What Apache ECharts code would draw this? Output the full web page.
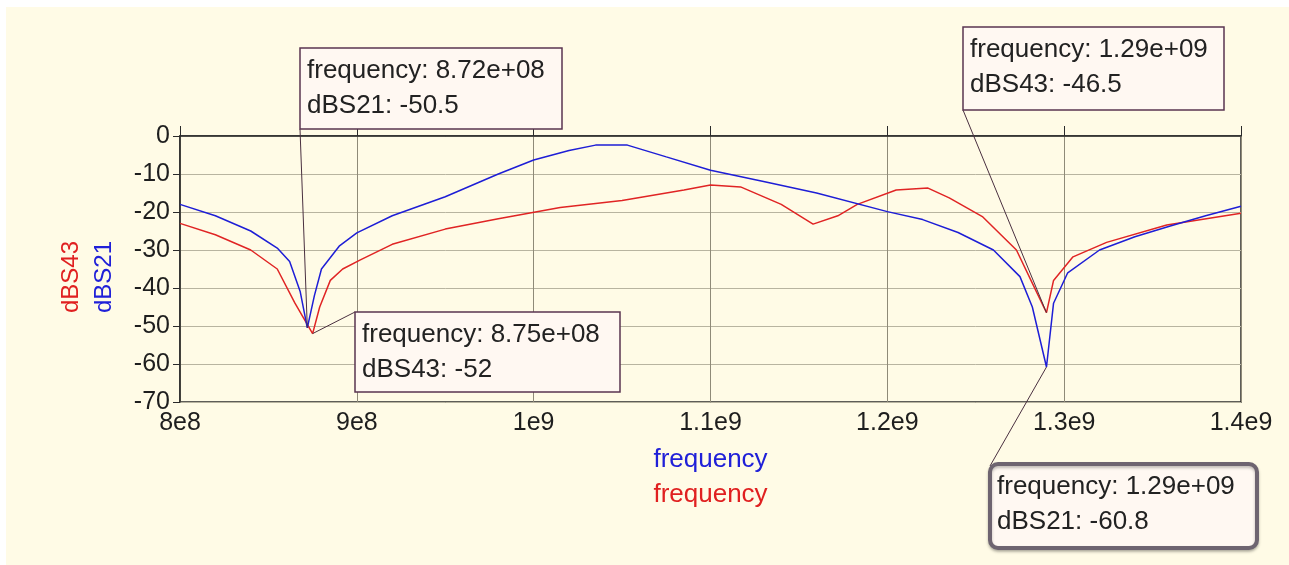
<!DOCTYPE html>
<html>
<head>
<meta charset="utf-8">
<script src="https://cdn.jsdelivr.net/npm/echarts@6/dist/echarts.min.js"></script>
<style>
    html, body { margin: 0; padding: 0; background: #fff; }
    #chart { width: 1289px; height: 565px; }
</style>
</head>
<body>
<div id="chart"></div>
<script>
// S21 trace (blue)
const freqS21 = [8.00e8, 8.20e8, 8.40e8, 8.55e8, 8.62e8, 8.68e8, 8.72e8, 8.76e8, 8.80e8, 8.90e8,
    9.00e8, 9.20e8, 9.50e8, 9.80e8, 1.00e9, 1.02e9, 1.035e9, 1.053e9, 1.075e9, 1.10e9,
    1.13e9, 1.16e9, 1.20e9, 1.22e9, 1.24e9, 1.26e9, 1.275e9, 1.282e9, 1.29e9, 1.294e9,
    1.302e9, 1.32e9, 1.34e9, 1.36e9, 1.38e9, 1.40e9];
const dbS21 = [-18, -21, -25, -29.5, -33, -41, -50.5, -42, -35, -29,
    -25.5, -21, -16, -10, -6.3, -3.8, -2.4, -2.4, -5.5, -9,
    -12, -15, -19.9, -22, -25.4, -30, -37, -45, -60.8, -44,
    -36, -30, -26.5, -23.7, -21, -18.5];

// S43 trace (red)
const freqS43 = [8.00e8, 8.20e8, 8.40e8, 8.55e8, 8.65e8, 8.70e8, 8.75e8, 8.79e8, 8.85e8, 8.92e8,
    9.02e8, 9.20e8, 9.50e8, 9.80e8, 1.015e9, 1.05e9, 1.085e9, 1.10e9, 1.117e9, 1.14e9,
    1.158e9, 1.172e9, 1.183e9, 1.205e9, 1.223e9, 1.235e9, 1.254e9, 1.273e9, 1.283e9, 1.29e9,
    1.294e9, 1.305e9, 1.324e9, 1.358e9, 1.40e9];
const dbS43 = [-23, -26, -30, -35, -44, -48, -52, -45, -38, -35,
    -32.6, -28.5, -24.5, -21.8, -18.8, -17, -14.2, -12.9, -13.4, -18,
    -23.2, -21, -18, -14.2, -13.7, -16.3, -21.3, -30, -39.7, -46.5,
    -38, -31.8, -28, -23.4, -20.3];

const xTickLabels = ['8e8', '9e8', '1e9', '1.1e9', '1.2e9', '1.3e9', '1.4e9'];

// marker readouts
const markFreq = [8.72e8, 8.75e8, 1.29e9, 1.29e9];
const markVal = [-50.5, -52, -46.5, -60.8];
const markName = ['dBS21', 'dBS43', 'dBS43', 'dBS21'];
const markFreqText = ['8.72e+08', '8.75e+08', '1.29e+09', '1.29e+09'];

const FONT = 'Liberation Sans';

const chart = echarts.init(document.getElementById('chart'));

const option = {
    backgroundColor: '#fffbe6',
    animation: false,
    grid: {
        left: 180,
        right: 48,
        top: 136,
        bottom: 163,
        show: true,
        borderColor: '#2a2a2a',
        borderWidth: 1.5,
        backgroundColor: 'transparent'
    },
    xAxis: {
        type: 'value',
        min: 8e8,
        max: 1.4e9,
        interval: 1e8,
        name: '{a|frequency}\n{b|frequency}',
        nameLocation: 'middle',
        nameGap: 40,
        nameTextStyle: {
            rich: {
                a: { color: '#2020d8', fontSize: 26, fontFamily: FONT, lineHeight: 35 },
                b: { color: '#e02020', fontSize: 26, fontFamily: FONT, lineHeight: 35 }
            }
        },
        axisLine: { lineStyle: { color: '#2a2a2a', width: 1.5 } },
        axisTick: { inside: true, length: 10, lineStyle: { color: '#2a2a2a' } },
        axisLabel: {
            color: '#1e1e1e',
            fontSize: 25,
            fontFamily: FONT,
            margin: 9,
            formatter: function (v) {
                return xTickLabels[Math.round((v - 8e8) / 1e8)];
            }
        },
        splitLine: { show: true, lineStyle: { color: '#8f8a78', width: 1 } }
    },
    yAxis: {
        type: 'value',
        min: -70,
        max: 0,
        interval: 10,
        axisLine: { show: true, lineStyle: { color: '#2a2a2a', width: 1.5 } },
        axisTick: { show: true, length: 7, lineStyle: { color: '#2a2a2a' } },
        axisLabel: {
            color: '#1e1e1e',
            fontSize: 25,
            fontFamily: FONT,
            margin: 10
        },
        splitLine: { show: true, lineStyle: { color: '#b8b4a0', width: 1 } }
    },
    series: [
        {
            name: 'dBS21',
            type: 'line',
            data: freqS21.map((f, i) => [f, dbS21[i]]),
            showSymbol: false,
            lineStyle: { color: '#1e1ed6', width: 1.5 },
            z: 3
        },
        {
            name: 'dBS43',
            type: 'line',
            data: freqS43.map((f, i) => [f, dbS43[i]]),
            showSymbol: false,
            lineStyle: { color: '#e02424', width: 1.5 },
            z: 2
        }
    ]
};
chart.setOption(option);

// readout boxes: [left, top, width, height, anchor corner x, anchor corner y]
const boxes = [
    [300, 48, 262, 81, 300, 129],
    [355, 312, 265, 80, 355, 312],
    [963, 27, 261, 83, 963, 110],
    [990, 464, 267, 84, 990, 466]
];

const graphics = [
    { type: 'rect', shape: { x: 0, y: 0, width: 1289, height: 7 }, style: { fill: '#fff' }, z: 0 },
    { type: 'rect', shape: { x: 0, y: 0, width: 6, height: 565 }, style: { fill: '#fff' }, z: 0 },
    {
        type: 'text', x: 71, y: 277, rotation: Math.PI / 2, z: 10,
        style: { text: 'dBS43', fill: '#e02020', fontSize: 24, fontFamily: FONT, align: 'center', verticalAlign: 'middle' }
    },
    {
        type: 'text', x: 104, y: 277, rotation: Math.PI / 2, z: 10,
        style: { text: 'dBS21', fill: '#2020d8', fontSize: 24, fontFamily: FONT, align: 'center', verticalAlign: 'middle' }
    }
];

boxes.forEach((b, i) => {
    const p = chart.convertToPixel({ xAxisIndex: 0, yAxisIndex: 0 }, [markFreq[i], markVal[i]]);
    const selected = i === 3;
    graphics.push({
        type: 'line',
        shape: { x1: b[4], y1: b[5], x2: p[0], y2: p[1] },
        style: { stroke: '#4a3040', lineWidth: 1 },
        z: 20
    });
    graphics.push({
        type: 'rect',
        shape: { x: b[0], y: b[1], width: b[2], height: b[3], r: selected ? 8 : 0 },
        style: {
            fill: '#fff8f2',
            stroke: selected ? '#6e6470' : '#5a3550',
            lineWidth: selected ? 4 : 1.5,
            shadowColor: selected ? 'rgba(0,0,0,0.25)' : 'transparent',
            shadowBlur: selected ? 3 : 0,
            shadowOffsetY: selected ? 2 : 0
        },
        z: 21
    });
    graphics.push({
        type: 'text',
        x: b[0] + 7,
        y: b[1] + 23,
        style: {
            text: 'frequency: ' + markFreqText[i],
            fill: '#222', fontSize: 26, fontFamily: FONT, verticalAlign: 'middle'
        },
        z: 22
    });
    graphics.push({
        type: 'text',
        x: b[0] + 7,
        y: b[1] + 58,
        style: {
            text: markName[i] + ': ' + markVal[i],
            fill: '#222', fontSize: 26, fontFamily: FONT, verticalAlign: 'middle'
        },
        z: 22
    });
});

chart.setOption({ graphic: graphics });
</script>
</body>
</html>
